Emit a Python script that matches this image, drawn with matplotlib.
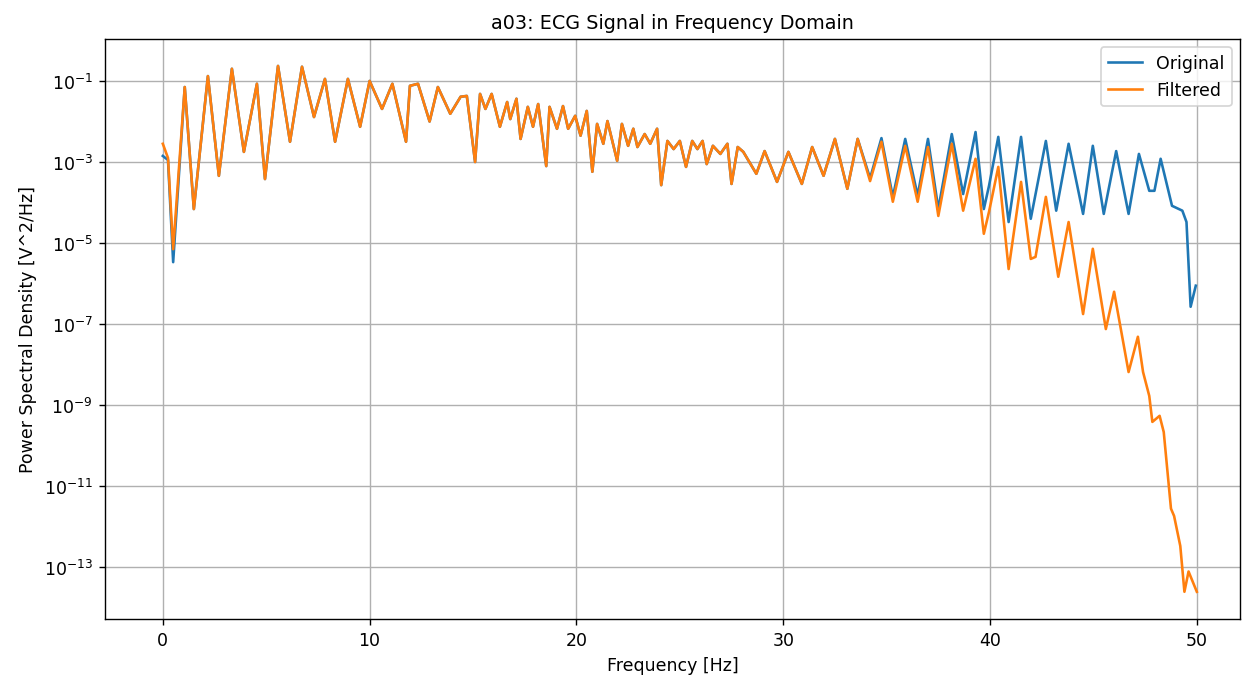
import numpy as np
import matplotlib
matplotlib.use("Agg")
import matplotlib.pyplot as plt

# PSD: (frequency Hz, log10 of V^2/Hz) at the turning points
head_orig = [(0.0, -2.85), (0.25, -2.95), (0.5, -5.47)]
head_filt = [(0.0, -2.55), (0.25, -2.9), (0.5, -5.15)]

# both curves coincide here
shared = [
    (1.06, -1.15), (1.5, -4.16), (2.18, -0.88), (2.71, -3.34), (3.34, -0.70),
    (3.92, -2.75), (4.55, -1.07), (4.94, -3.42), (5.57, -0.63), (6.15, -2.5),
    (6.73, -0.65), (7.31, -1.89), (7.84, -0.95), (8.33, -2.5), (8.95, -0.95),
    (9.54, -2.13), (10.0, -1.0), (10.6, -1.69), (11.1, -1.07), (11.76, -2.5),
    (11.95, -1.12), (12.34, -1.07), (12.9, -2.0), (13.3, -1.15), (13.9, -1.81),
    (14.4, -1.39), (14.7, -1.37), (15.1, -3.0), (15.34, -1.32), (15.6, -1.69),
    (15.9, -1.32), (16.3, -2.13), (16.65, -1.52), (16.8, -1.94), (17.1, -1.44),
    (17.3, -2.43), (17.65, -1.64), (17.9, -2.13), (18.15, -1.57), (18.54, -3.1),
    (18.7, -1.64), (19.06, -2.18), (19.35, -1.62), (19.6, -2.18), (19.94, -1.86),
    (20.2, -2.35), (20.5, -1.74), (20.77, -3.24), (21.0, -2.06), (21.3, -2.55),
    (21.5, -1.99), (21.97, -2.97), (22.2, -2.06), (22.5, -2.6), (22.75, -2.18),
    (22.95, -2.63), (23.3, -2.31), (23.57, -2.55), (23.9, -2.18), (24.1, -3.57),
    (24.4, -2.48), (24.7, -2.68), (25.0, -2.48), (25.3, -3.12), (25.6, -2.48),
    (25.85, -2.68), (26.1, -2.48), (26.3, -3.05), (26.6, -2.6), (26.96, -2.8),
    (27.3, -2.55), (27.5, -3.54), (27.8, -2.63), (28.07, -2.75), (28.7, -3.29),
    (29.1, -2.73), (29.7, -3.49), (30.25, -2.75), (30.9, -3.54), (31.4, -2.63),
    (31.95, -3.34), (32.5, -2.43), (33.1, -3.66), (33.6, -2.43),
]

tail_orig = [
    (34.2, -3.4), (34.75, -2.41), (35.3, -3.86), (35.9, -2.43), (36.5, -3.83),
    (37.0, -2.43), (37.5, -4.16), (38.15, -2.31), (38.7, -3.79), (39.3, -2.26),
    (39.7, -4.16), (39.95, -3.59), (40.4, -2.38), (40.9, -4.48), (41.5, -2.38),
    (41.97, -4.4), (42.7, -2.48), (43.2, -4.2), (43.8, -2.55), (44.5, -4.28),
    (44.97, -2.6), (45.5, -4.28), (46.1, -2.73), (46.7, -4.28), (47.2, -2.8),
    (47.7, -3.71), (47.95, -3.71), (48.25, -2.92), (48.8, -4.08), (49.3, -4.2),
    (49.5, -4.48), (49.7, -6.57), (49.95, -6.05),
]

tail_filt = [
    (34.2, -3.47), (34.75, -2.5), (35.3, -3.98), (35.9, -2.6), (36.5, -3.98),
    (37.0, -2.63), (37.5, -4.33), (38.15, -2.55), (38.7, -4.2), (39.3, -2.92),
    (39.7, -4.77), (39.95, -4.23), (40.4, -3.12), (40.9, -5.64), (41.5, -3.49),
    (41.97, -5.39), (42.2, -5.34), (42.7, -3.86), (43.3, -5.83), (43.8, -4.48),
    (44.5, -6.75), (44.97, -5.14), (45.6, -7.12), (46.0, -6.2), (46.7, -8.18),
    (47.15, -7.31), (47.4, -8.18), (47.7, -8.77), (47.85, -9.41), (48.2, -9.26),
    (48.4, -9.66), (48.75, -11.55), (48.9, -11.73), (49.2, -12.47), (49.4, -13.6),
    (49.6, -13.1), (50.0, -13.6),
]

orig = np.array(head_orig + shared + tail_orig)
filt = np.array(head_filt + shared + tail_filt)

fig = plt.figure(figsize=(10, 5.484), dpi=124.9)
ax = fig.add_axes([0.084, 0.095, 0.909, 0.847])

ax.semilogy(orig[:, 0], 10 ** orig[:, 1], label='Original')
ax.semilogy(filt[:, 0], 10 ** filt[:, 1], label='Filtered')

ax.set_xlim(-2.8, 52.1)
ax.set_ylim(10 ** -14.27, 10 ** 0.04)
ax.set_title('a03: ECG Signal in Frequency Domain', fontsize=11)
ax.set_xlabel('Frequency [Hz]')
ax.set_ylabel('Power Spectral Density [V^2/Hz]')
ax.grid(True)
ax.legend(loc='upper right')

fig.savefig('out.png')
